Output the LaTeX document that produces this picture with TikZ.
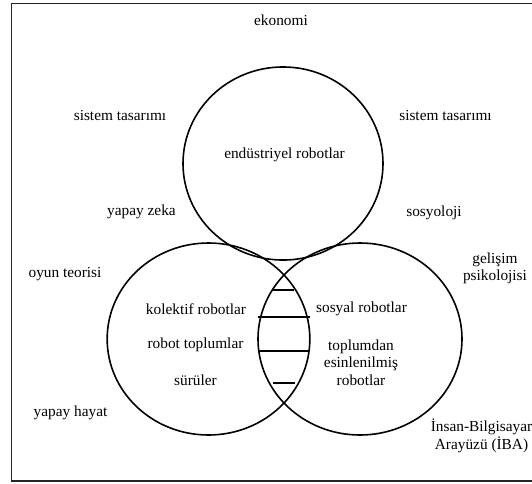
\documentclass[tikz,border=0pt]{standalone}
\usepackage{fontspec}
\setmainfont{Liberation Serif}
\begin{document}
\begin{tikzpicture}[x=0.75pt,y=-0.75pt,
  lbl/.style={inner sep=0pt, font=\fontsize{11.5}{13.1}\selectfont, align=center},
  setring/.style={line width=1.2pt, black},
  rung/.style={line width=0.9pt},
  bigrung/.style={line width=1.5pt},
  frameline/.style={line width=0.8pt, black!85}]
\useasboundingbox (0,0) rectangle (532,483);
% frame (open on the right)
\draw[frameline] (540,3.5) -- (11.5,3.5) -- (11.5,481) -- (540,481);
% sets
\coordinate (ctop) at (283,163.5);
\coordinate (cleft) at (208.5,339);
\coordinate (cright) at (360,339);
\draw[setring] (ctop) ellipse [x radius=75pt, y radius=72.4pt];
\draw[setring] (cleft) ellipse [x radius=76pt, y radius=72pt];
\draw[setring] (cright) ellipse [x radius=76.5pt, y radius=72pt];
% rungs in the lens
\draw[rung] (273,290) -- (294,290);
\draw[bigrung] (258,317) -- (310,317);
\draw[bigrung] (258,351) -- (309,351);
\draw[rung] (273,383) -- (295,383);
% labels
\node[lbl] (ekonomi) at (281,20) {ekonomi};
\node[lbl] (sistL) at (120,115) {sistem tasarımı};
\node[lbl] (sistR) at (445.5,115) {sistem tasarımı};
\node[lbl] (endus) at (284.5,155) {endüstriyel robotlar};
\node[lbl] (yzeka) at (141.5,212) {yapay zeka};
\node[lbl] (sosyo) at (434,213) {sosyoloji};
\node[lbl] (gelis) at (495,268.5) {gelişim\\psikolojisi};
\node[lbl] (oyun) at (65,274) {oyun teorisi};
\node[lbl] (kolek) at (196,309) {kolektif robotlar};
\node[lbl] (toplum) at (195.5,345) {robot toplumlar};
\node[lbl] (suru) at (195.5,380) {sürüler};
\node[lbl] (sosyal) at (361.5,309) {sosyal robotlar};
\node[lbl] (esin) at (361,362.5) {toplumdan\\esinlenilmiş\\robotlar};
\node[lbl] (hayat) at (70.5,413) {yapay hayat};
\node[lbl] (iba) at (481.5,436) {İnsan-Bilgisayar\\Arayüzü (İBA)};
\end{tikzpicture}
\end{document}
